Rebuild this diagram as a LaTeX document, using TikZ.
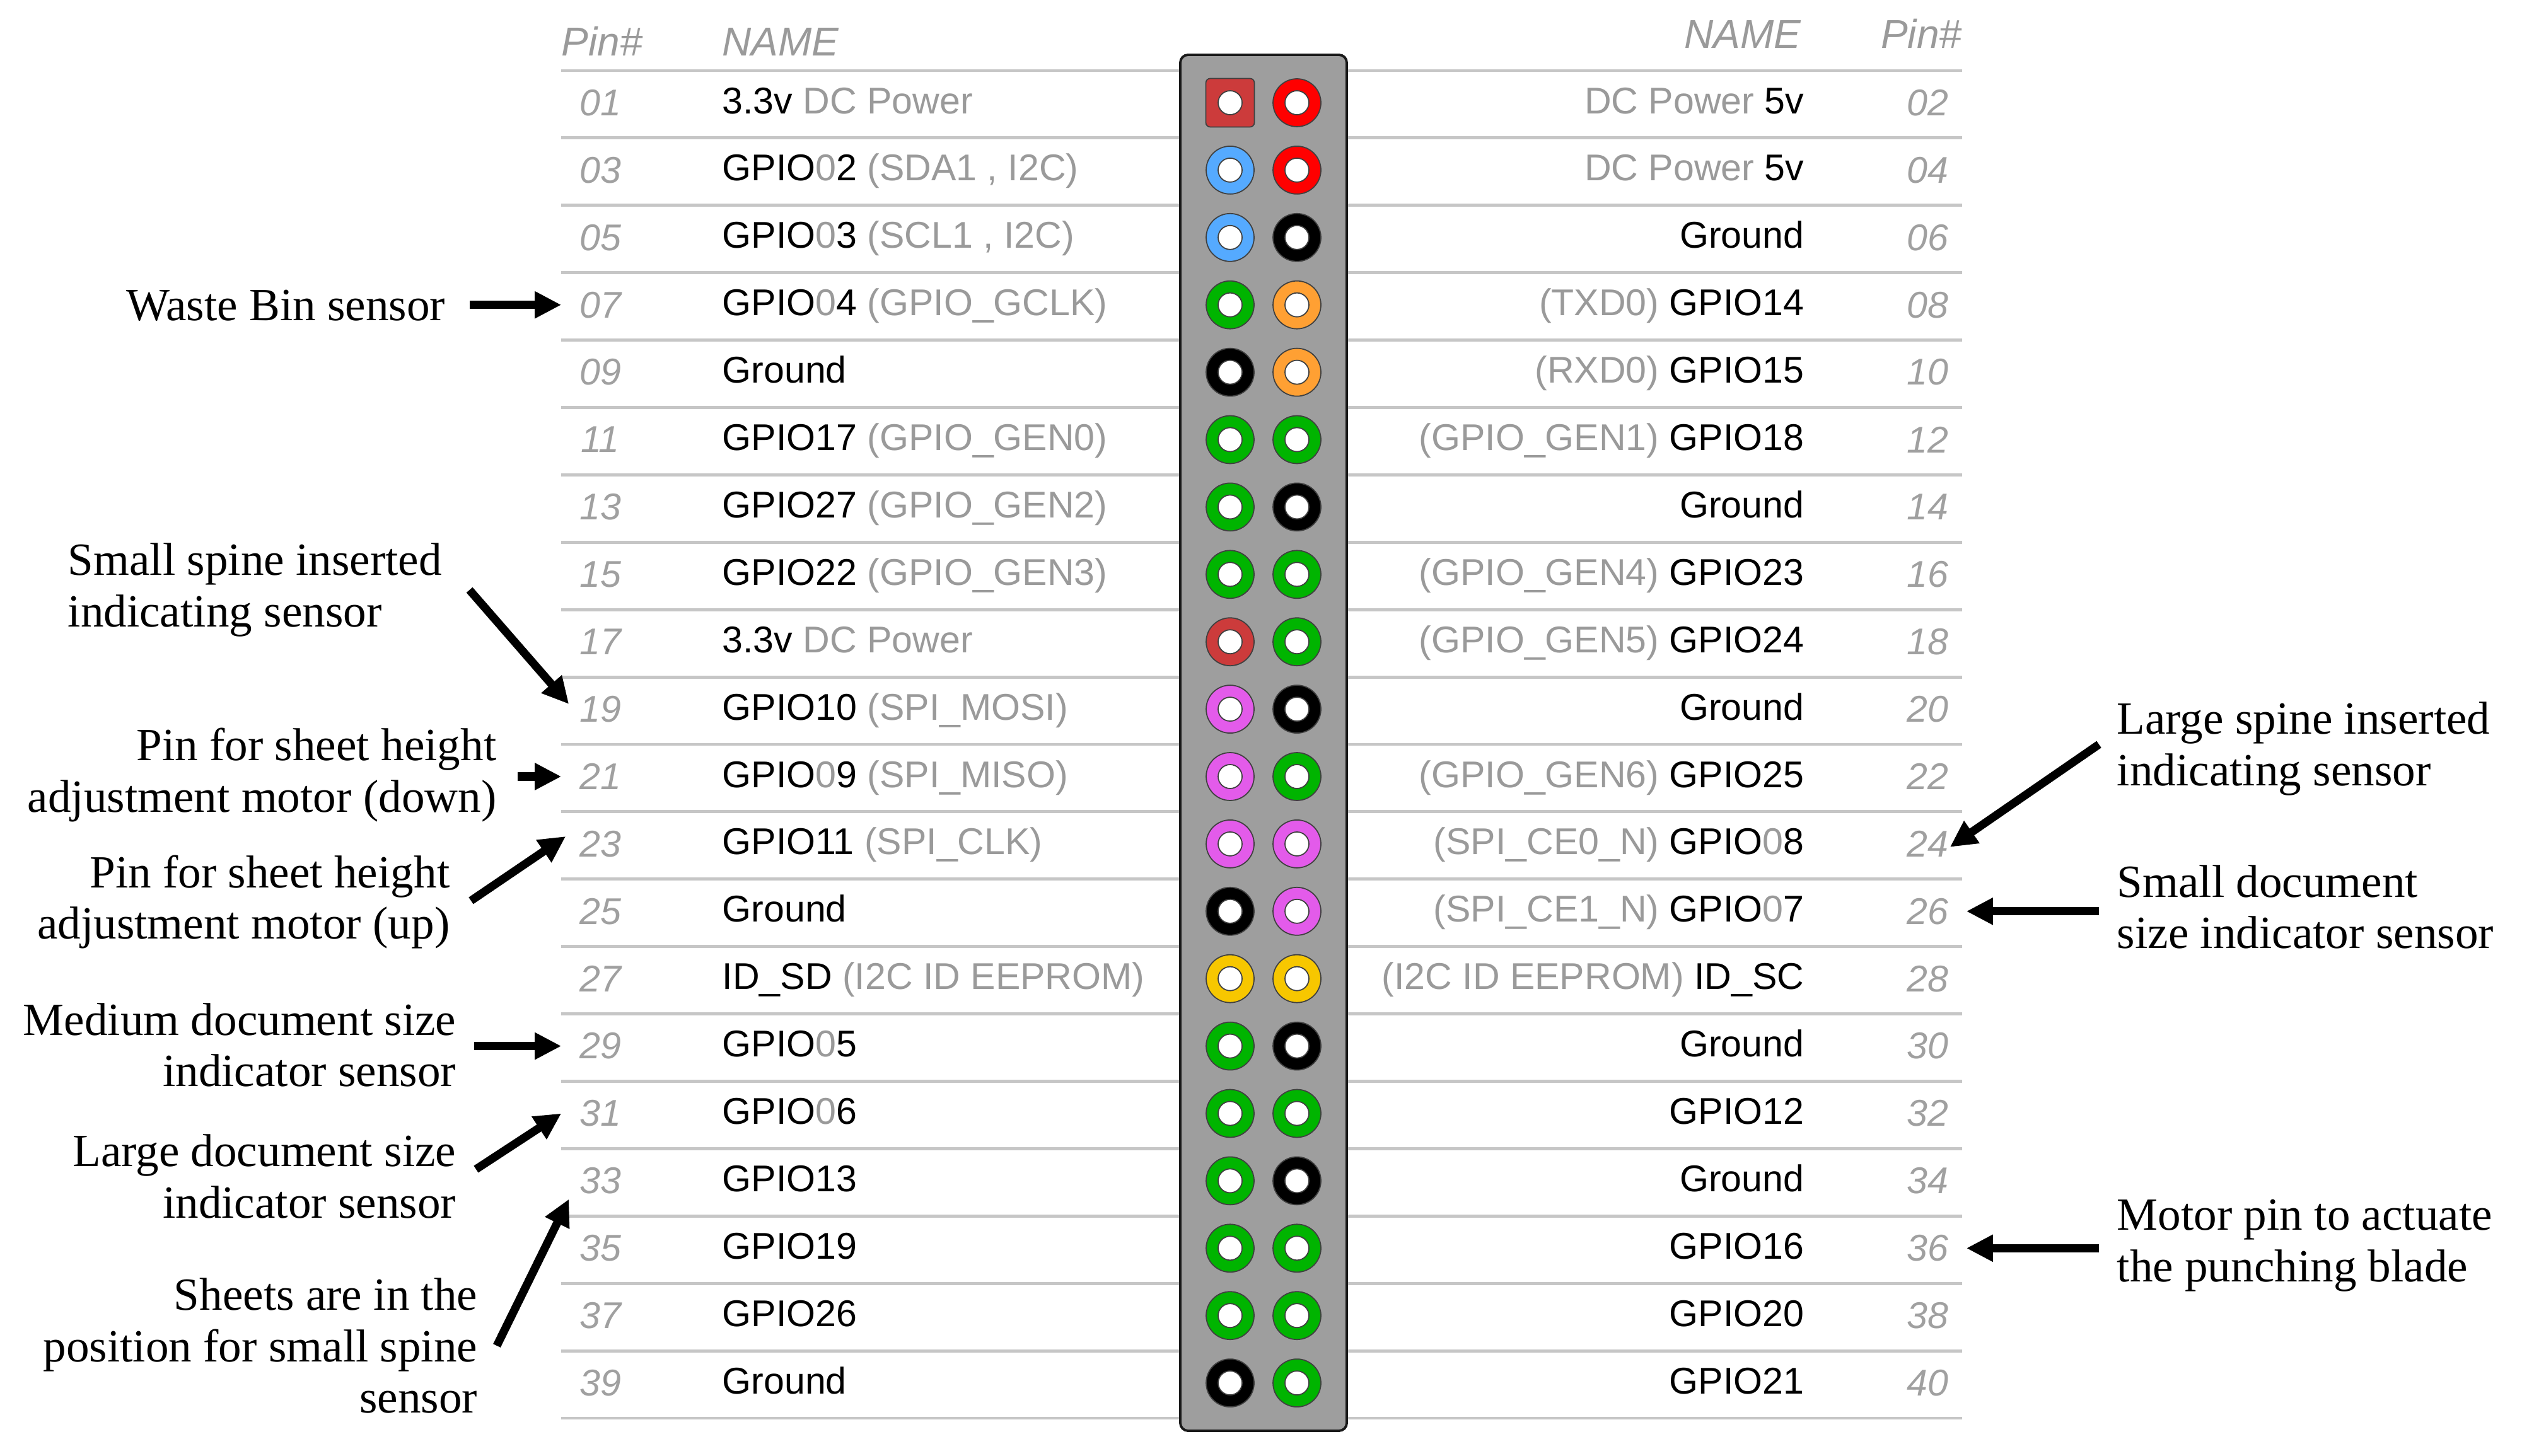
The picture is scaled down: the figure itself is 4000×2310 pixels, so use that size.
\documentclass[tikz,border=0pt]{standalone}
\usepackage{fontspec}
\setmainfont{Liberation Serif}
\newfontfamily\sansf{Liberation Sans}
\usetikzlibrary{arrows.meta,calc}
\definecolor{txtgray}{HTML}{9A9A9A}
\definecolor{numgray}{HTML}{A0A0A0}
\definecolor{linegray}{HTML}{C6C6C6}
\definecolor{boxgray}{HTML}{9E9E9E}
\definecolor{pred}{HTML}{FF0000}
\definecolor{pdred}{HTML}{CC3B3B}
\definecolor{pblue}{HTML}{55AAFF}
\definecolor{pgreen}{HTML}{00B400}
\definecolor{porange}{HTML}{FFA033}
\definecolor{pviolet}{HTML}{E35BEA}
\definecolor{pyellow}{HTML}{F7C700}
\definecolor{pblack}{HTML}{000000}
\newcommand\gry[1]{\textcolor{txtgray}{#1}}
\tikzset{
  numtxt/.style={font=\sansf\itshape\fontsize{16.8}{20}\selectfont, text=numgray, inner xsep=8pt, inner ysep=1pt, anchor=center},
  nameL/.style={font=\sansf\fontsize{16.8}{20}\selectfont, anchor=mid west, inner sep=0pt},
  nameR/.style={font=\sansf\fontsize{16.8}{20}\selectfont, anchor=mid east, inner sep=0pt},
  hdr/.style={font=\sansf\itshape\fontsize{18.2}{22}\selectfont, text=txtgray, inner sep=0pt},
  note/.style={font=\fontsize{20.8}{23.3}\selectfont, inner sep=0pt},
  arr/.style={line width=3.7pt, -{Triangle[length=12pt,width=11.5pt]}},
  ring/.style={circle, draw=black!75, line width=0.5pt, minimum size=21.6pt, inner sep=0pt},
  hole/.style={circle, draw=black!75, fill=white, line width=0.5pt, minimum size=10.8pt, inner sep=0pt},
  sqpin/.style={rectangle, rounded corners=2pt, draw=black!75, line width=0.5pt, minimum size=21.9pt, inner sep=0pt},
  gline/.style={draw=linegray, line width=1.4pt},
  header box/.style={draw=black!90, fill=boxgray, line width=1.1pt, rounded corners=3.5pt}
}
% #1 row index, #2 pin number, #3 name, #4 colour
\newcommand\leftrow[4]{%
  \node[numtxt] (n#2) at (952,{163+#1*106.9}) {#2};
  \node[nameL] (t#2) at (1145,{172+#1*106.9}) {#3};
  \node[ring, fill=#4] (p#2) at (1951,{163+#1*106.9}) {};
  \node[hole] (h#2) at (p#2) {};
}
\newcommand\rightrow[4]{%
  \node[numtxt] (n#2) at (3057,{163+#1*106.9}) {#2};
  \node[nameR] (t#2) at (2862,{172+#1*106.9}) {#3};
  \node[ring, fill=#4] (p#2) at (2057,{163+#1*106.9}) {};
  \node[hole] (h#2) at (p#2) {};
}
\begin{document}
\begin{tikzpicture}[x=0.01cm, y=-0.01cm]
\path[use as bounding box, fill=white] (0,0) rectangle (4000,2310);
% table rules
\foreach \j in {0,...,20} {
  \draw[gline] (890,{112+\j*106.9}) -- (1872,{112+\j*106.9});
  \draw[gline] (2136,{112+\j*106.9}) -- (3112,{112+\j*106.9});
}
% headers
\node[hdr, anchor=mid west] (hpl) at (890,80) {Pin\#};
\node[hdr, anchor=mid west] (hnl) at (1145,80) {NAME};
\node[hdr, anchor=mid east] (hnr) at (2857,68) {NAME};
\node[hdr, anchor=mid east] (hpr) at (3112,68) {Pin\#};
% header block
\draw[header box] (1872,87) rectangle (2136,2270);
% pin 1 (square)
\node[numtxt] (n01) at (952,163) {01};
\node[nameL] (t01) at (1145,172) {3.3v \gry{DC Power}};
\node[sqpin, fill=pdred] (p01) at (1951,163) {};
\node[hole] (h01) at (p01) {};
\leftrow{1}{03}{GPIO\gry{0}2 \gry{(SDA1 , I2C)}}{pblue}
\leftrow{2}{05}{GPIO\gry{0}3 \gry{(SCL1 , I2C)}}{pblue}
\leftrow{3}{07}{GPIO\gry{0}4 \gry{(GPIO\_GCLK)}}{pgreen}
\leftrow{4}{09}{Ground}{pblack}
\leftrow{5}{11}{GPIO17 \gry{(GPIO\_GEN0)}}{pgreen}
\leftrow{6}{13}{GPIO27 \gry{(GPIO\_GEN2)}}{pgreen}
\leftrow{7}{15}{GPIO22 \gry{(GPIO\_GEN3)}}{pgreen}
\leftrow{8}{17}{3.3v \gry{DC Power}}{pdred}
\leftrow{9}{19}{GPIO10 \gry{(SPI\_MOSI)}}{pviolet}
\leftrow{10}{21}{GPIO\gry{0}9 \gry{(SPI\_MISO)}}{pviolet}
\leftrow{11}{23}{GPIO11 \gry{(SPI\_CLK)}}{pviolet}
\leftrow{12}{25}{Ground}{pblack}
\leftrow{13}{27}{ID\_SD \gry{(I2C ID EEPROM)}}{pyellow}
\leftrow{14}{29}{GPIO\gry{0}5}{pgreen}
\leftrow{15}{31}{GPIO\gry{0}6}{pgreen}
\leftrow{16}{33}{GPIO13}{pgreen}
\leftrow{17}{35}{GPIO19}{pgreen}
\leftrow{18}{37}{GPIO26}{pgreen}
\leftrow{19}{39}{Ground}{pblack}
\rightrow{0}{02}{\gry{DC Power} 5v}{pred}
\rightrow{1}{04}{\gry{DC Power} 5v}{pred}
\rightrow{2}{06}{Ground}{pblack}
\rightrow{3}{08}{\gry{(TXD0)} GPIO14}{porange}
\rightrow{4}{10}{\gry{(RXD0)} GPIO15}{porange}
\rightrow{5}{12}{\gry{(GPIO\_GEN1)} GPIO18}{pgreen}
\rightrow{6}{14}{Ground}{pblack}
\rightrow{7}{16}{\gry{(GPIO\_GEN4)} GPIO23}{pgreen}
\rightrow{8}{18}{\gry{(GPIO\_GEN5)} GPIO24}{pgreen}
\rightrow{9}{20}{Ground}{pblack}
\rightrow{10}{22}{\gry{(GPIO\_GEN6)} GPIO25}{pgreen}
\rightrow{11}{24}{\gry{(SPI\_CE0\_N)} GPIO\gry{0}8}{pviolet}
\rightrow{12}{26}{\gry{(SPI\_CE1\_N)} GPIO\gry{0}7}{pviolet}
\rightrow{13}{28}{\gry{(I2C ID EEPROM)} ID\_SC}{pyellow}
\rightrow{14}{30}{Ground}{pblack}
\rightrow{15}{32}{GPIO12}{pgreen}
\rightrow{16}{34}{Ground}{pblack}
\rightrow{17}{36}{GPIO16}{pgreen}
\rightrow{18}{38}{GPIO20}{pgreen}
\rightrow{19}{40}{GPIO21}{pgreen}
% annotations
\node[note, anchor=east] (wb) at (707,485) {Waste Bin sensor};
\node[note, anchor=west, align=left] (ss) at (107,936) {Small spine inserted\\indicating sensor};
\node[note, anchor=east, align=right] (pd) at (788,1230) {Pin for sheet height\\adjustment motor (down)};
\node[note, anchor=east, align=right] (pu) at (714,1431) {Pin for sheet height\\adjustment motor (up)};
\node[note, anchor=east, align=right] (md) at (724,1658) {Medium document size\\indicator sensor};
\node[note, anchor=east, align=right] (ld) at (724,1866) {Large document size\\indicator sensor};
\node[note, anchor=east, align=right] (sh) at (758,2135) {Sheets are in the\\position for small spine\\sensor};
\node[note, anchor=west, align=left] (ls) at (3357,1188) {Large spine inserted\\indicating sensor};
\node[note, anchor=west, align=left] (sd) at (3357,1439) {Small document\\size indicator sensor};
\node[note, anchor=west, align=left] (mp) at (3357,1976) {Motor pin to actuate\\the punching blade};
% arrow start points
\coordinate (wbs) at ($(wb.east)+(38,0)$);
\coordinate (pds) at ($(pd.east)+(33,0)$);
\coordinate (mds) at ($(md.east)+(28,0)$);
\coordinate (sds) at ($(sd.west)+(-28,0)$);
\coordinate (mps) at ($(mp.west)+(-28,0)$);
% arrows
\draw[arr] (wbs |- n07.west) -- (n07.west);
\draw[arr] ($(ss.east)+(43,0)$) -- ($(n19.west)+(12,-8)$);
\draw[arr] (pds |- n21.west) -- (n21.west);
\draw[arr] ($(pu.east)+(33,-2)$) -- ($(n23.west)+(7,-12)$);
\draw[arr] (mds |- n29.west) -- (n29.west);
\draw[arr] ($(ld.east)+(31,-11)$) -- (n31.west);
\draw[arr] ($(sh.east)+(30,0)$) -- ($(n33.west)+(12,29)$);
\draw[arr] ($(ls.west)+(-28,-7)$) -- ($(n24.east)+(-26,5)$);
\draw[arr] (sds |- n26.east) -- (n26.east);
\draw[arr] (mps |- n36.east) -- (n36.east);
\end{tikzpicture}
\end{document}
